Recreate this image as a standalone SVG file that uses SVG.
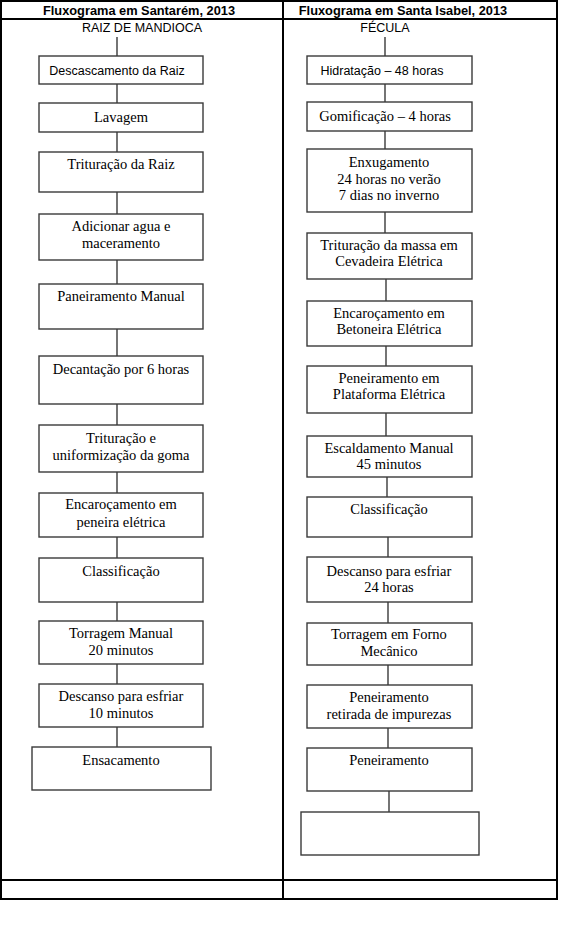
<svg xmlns="http://www.w3.org/2000/svg" width="582" height="932" viewBox="0 0 582 932">
<style>
.tbl{fill:none;stroke:#000;stroke-width:2}
.box{fill:#fff;stroke:#3a3a3a;stroke-width:1.4}
.con{stroke:#3a3a3a;stroke-width:1.4;fill:none}
.hd{font-family:"Liberation Sans",Arial,sans-serif;font-weight:bold;font-size:12.8px;fill:#000;text-anchor:middle}
.sn{font-family:"Liberation Sans",Arial,sans-serif;font-size:12.5px;fill:#000;text-anchor:middle}
.sf{font-family:"Liberation Serif",Tinos,"Times New Roman","DejaVu Serif",serif;font-size:14.5px;fill:#000;text-anchor:middle}
</style>
<rect width="582" height="932" fill="#fff"/>
<g id="table">
<rect class="tbl" x="1" y="1" width="556" height="898"/>
<line class="tbl" x1="1" y1="19" x2="557" y2="19"/>
<line class="tbl" x1="283" y1="1" x2="283" y2="899"/>
<line class="tbl" x1="1" y1="880" x2="557" y2="880"/>
<text class="hd" x="139" y="15">Fluxograma em Santarém, 2013</text>
<text class="hd" x="403" y="15">Fluxograma em Santa Isabel, 2013</text>
</g>
<g id="connectors">
<line class="con" x1="117" y1="37" x2="117" y2="56"/>
<line class="con" x1="117" y1="84" x2="117" y2="103"/>
<line class="con" x1="117" y1="132" x2="117" y2="152"/>
<line class="con" x1="117" y1="192" x2="117" y2="214"/>
<line class="con" x1="117" y1="260" x2="117" y2="284"/>
<line class="con" x1="117" y1="329" x2="117" y2="356"/>
<line class="con" x1="117" y1="404" x2="117" y2="425"/>
<line class="con" x1="117" y1="472" x2="117" y2="493"/>
<line class="con" x1="117" y1="537" x2="117" y2="558"/>
<line class="con" x1="117" y1="602" x2="117" y2="621"/>
<line class="con" x1="117" y1="664" x2="117" y2="684"/>
<line class="con" x1="117" y1="727" x2="117" y2="747"/>
<line class="con" x1="385" y1="37" x2="385" y2="56"/>
<line class="con" x1="385" y1="84" x2="385" y2="102"/>
<line class="con" x1="385" y1="131" x2="385" y2="149"/>
<line class="con" x1="385" y1="212" x2="385" y2="233"/>
<line class="con" x1="386" y1="279" x2="386" y2="301"/>
<line class="con" x1="386" y1="346" x2="386" y2="366"/>
<line class="con" x1="386" y1="413" x2="386" y2="436"/>
<line class="con" x1="387" y1="477" x2="387" y2="497"/>
<line class="con" x1="388" y1="537" x2="388" y2="557"/>
<line class="con" x1="388" y1="602" x2="388" y2="623"/>
<line class="con" x1="388" y1="665" x2="388" y2="685"/>
<line class="con" x1="388" y1="728" x2="388" y2="748"/>
<line class="con" x1="389" y1="791" x2="389" y2="812"/>
</g>
<g id="raiz"><text class="sn" x="142" y="32">RAIZ DE MANDIOCA</text></g>
<g id="l1"><rect class="box" x="39" y="56" width="164" height="28"/><text class="sn" x="117" y="75">Descascamento da Raiz</text></g>
<g id="l2"><rect class="box" x="39" y="103" width="164" height="29"/><text class="sf" x="121" y="122">Lavagem</text></g>
<g id="l3"><rect class="box" x="39" y="152" width="164" height="40"/><text class="sf" x="121" y="169">Trituração da Raiz</text></g>
<g id="l4"><rect class="box" x="39" y="214" width="164" height="46"/><text class="sf" x="121" y="231">Adicionar agua e</text><text class="sf" x="121" y="248">maceramento</text></g>
<g id="l5"><rect class="box" x="39" y="284" width="164" height="45"/><text class="sf" x="121" y="301">Paneiramento Manual</text></g>
<g id="l6"><rect class="box" x="39" y="356" width="164" height="48"/><text class="sf" x="121" y="374">Decantação por 6 horas</text></g>
<g id="l7"><rect class="box" x="39" y="425" width="164" height="47"/><text class="sf" x="121" y="443">Trituração e</text><text class="sf" x="121" y="460">uniformização da goma</text></g>
<g id="l8"><rect class="box" x="39" y="493" width="164" height="44"/><text class="sf" x="121" y="509">Encaroçamento em</text><text class="sf" x="121" y="527">peneira elétrica</text></g>
<g id="l9"><rect class="box" x="39" y="558" width="164" height="44"/><text class="sf" x="121" y="576">Classificação</text></g>
<g id="l10"><rect class="box" x="39" y="621" width="164" height="43"/><text class="sf" x="121" y="638">Torragem Manual</text><text class="sf" x="121" y="655">20 minutos</text></g>
<g id="l11"><rect class="box" x="39" y="684" width="164" height="43"/><text class="sf" x="121" y="701">Descanso para esfriar</text><text class="sf" x="121" y="718">10 minutos</text></g>
<g id="l12"><rect class="box" x="32" y="747" width="179" height="43"/><text class="sf" x="121" y="765">Ensacamento</text></g>
<g id="fecula"><text class="sn" x="385" y="32">FÉCULA</text></g>
<g id="r1"><rect class="box" x="307" y="56" width="165" height="28"/><text class="sn" x="382" y="75">Hidratação – 48 horas</text></g>
<g id="r2"><rect class="box" x="307" y="102" width="165" height="29"/><text class="sf" x="385" y="121">Gomificação – 4 horas</text></g>
<g id="r3"><rect class="box" x="307" y="149" width="165" height="63"/><text class="sf" x="389" y="167">Enxugamento</text><text class="sf" x="389" y="184">24 horas no verão</text><text class="sf" x="389" y="200">7 dias no inverno</text></g>
<g id="r4"><rect class="box" x="307" y="233" width="165" height="46"/><text class="sf" x="389" y="250">Trituração da massa em</text><text class="sf" x="389" y="266">Cevadeira Elétrica</text></g>
<g id="r5"><rect class="box" x="307" y="301" width="165" height="45"/><text class="sf" x="389" y="318">Encaroçamento em</text><text class="sf" x="389" y="334">Betoneira Elétrica</text></g>
<g id="r6"><rect class="box" x="307" y="366" width="165" height="47"/><text class="sf" x="389" y="383">Peneiramento em</text><text class="sf" x="389" y="399">Plataforma Elétrica</text></g>
<g id="r7"><rect class="box" x="307" y="436" width="165" height="41"/><text class="sf" x="389" y="453">Escaldamento Manual</text><text class="sf" x="389" y="469">45 minutos</text></g>
<g id="r8"><rect class="box" x="307" y="497" width="165" height="40"/><text class="sf" x="389" y="514">Classificação</text></g>
<g id="r9"><rect class="box" x="307" y="557" width="165" height="45"/><text class="sf" x="389" y="576">Descanso para esfriar</text><text class="sf" x="389" y="592">24 horas</text></g>
<g id="r10"><rect class="box" x="307" y="623" width="165" height="42"/><text class="sf" x="389" y="639">Torragem em Forno</text><text class="sf" x="389" y="656">Mecânico</text></g>
<g id="r11"><rect class="box" x="307" y="685" width="165" height="43"/><text class="sf" x="389" y="702">Peneiramento</text><text class="sf" x="389" y="719">retirada de impurezas</text></g>
<g id="r12"><rect class="box" x="307" y="748" width="165" height="43"/><text class="sf" x="389" y="765">Peneiramento</text></g>
<g id="r13"><rect class="box" x="301" y="812" width="178" height="43"/></g>
</svg>
